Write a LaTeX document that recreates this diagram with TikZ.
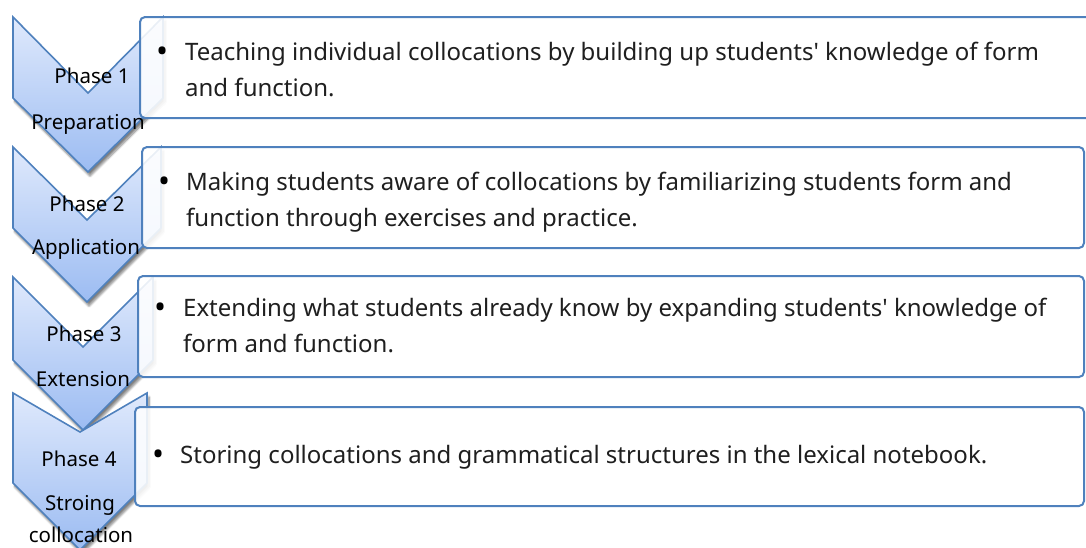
\documentclass[tikz,border=0pt]{standalone}
\usepackage{fontspec}
\setmainfont{Noto Sans}
\usepackage{tikz}
\usetikzlibrary{positioning}
\usetikzlibrary{calc,shadows.blur}

\definecolor{ChevLine}{HTML}{4F81BD}
\definecolor{ChevTop}{HTML}{DFE9FC}
\definecolor{ChevBot}{HTML}{9CBCF2}

\tikzset{
	chevron/.style={draw=ChevLine, line width=1.6pt, line join=miter,
		top color=ChevTop, bottom color=ChevBot,
		blur shadow={shadow xshift=2pt, shadow yshift=-4pt, shadow blur steps=8, shadow opacity=50}},
	listbox/.style={draw=ChevLine, line width=2pt, fill=white, fill opacity=0.88, rounded corners=5pt},
	phaselabel/.style={font=\fontsize{20.5}{22}\selectfont, text=black, inner sep=0pt},
	itemline/.style={font=\fontsize{24}{28}\selectfont, text=black!88, anchor=base west, inner sep=0pt},
	itembullet/.style={font=\fontsize{32}{34}\selectfont, text=black, anchor=base, inner sep=0pt},
}

\begin{document}
\begin{tikzpicture}[x=1pt, y=-1pt]
	
	% ------------------------------------------------
	% Size of the graphic
	\useasboundingbox (0,0) rectangle (1086,547);
	\clip (0,0) rectangle (1086,547);
	
	% ------------------------------------------------
	% Phase 1
	\coordinate (C1) at (13,17);
	\draw[chevron] (C1) -- (88,93) -- (163,17) -- (163,98) -- (88,172) -- (13,98) -- cycle;
	\draw[listbox] (140,17) rectangle (1096,118);
	
	% ----------------
	% Phase 2
	\coordinate (C2) at (13,147);
	\draw[chevron] (C2) -- (87,220) -- (161,147) -- (161,228) -- (87,302) -- (13,228) -- cycle;
	\draw[listbox] (142,147) rectangle (1084,248);
	
	% ----------------
	% Phase 3
	\coordinate (C3) at (13,277);
	\draw[chevron] (C3) -- (83,347) -- (153,277) -- (153,360) -- (83,430) -- (13,360) -- cycle;
	\draw[listbox] (138,276) rectangle (1084,377);
	
	% ----------------
	% Phase 4
	\coordinate (C4) at (13,393);
	\draw[chevron] (C4) -- (80,432) -- (147,393) -- (147,483) -- (80,550) -- (13,483) -- cycle;
	\draw[listbox] (135,407) rectangle (1084,506);
	
	% ------------------------------------------------
	% Texts of the boxes
	\node[itembullet] (B1) at (163,62) {•};
	\node[itemline] (T1a) at (185,60) {Teaching individual collocations by building up students\textquotesingle{} knowledge of form};
	\node[itemline] (T1b) at (185,96) {and function.};
	
	\node[itembullet] (B2) at (165,192) {•};
	\node[itemline] (T2a) at (186,190) {Making students aware of collocations by familiarizing students form and};
	\node[itemline] (T2b) at (186,226) {function through exercises and practice.};
	
	\node[itembullet] (B3) at (161,318) {•};
	\node[itemline] (T3a) at (183,316) {Extending what students already know by expanding students\textquotesingle{} knowledge of};
	\node[itemline] (T3b) at (183,352) {form and function.};
	
	\node[itembullet] (B4) at (159,465) {•};
	\node[itemline] (T4a) at (180,463) {Storing collocations and grammatical structures in the lexical notebook.};
	
	% ------------------------------------------------
	% Labels of the chevrons
	\node[phaselabel] (P1) at (92,76) {Phase 1};
	\node[phaselabel] (L1) at (88,124) {Preparation};
	
	\node[phaselabel] (P2) at (87,204) {Phase 2};
	\node[phaselabel] (L2) at (86,249) {Application};
	
	\node[phaselabel] (P3) at (84,334) {Phase 3};
	\node[phaselabel] (L3) at (83,379) {Extension};
	
	\node[phaselabel] (P4) at (79,459) {Phase 4};
	\node[phaselabel] (L4a) at (80,505) {Stroing};
	\node[phaselabel] (L4b) at (81,535) {collocation};
	
\end{tikzpicture}
\end{document}
